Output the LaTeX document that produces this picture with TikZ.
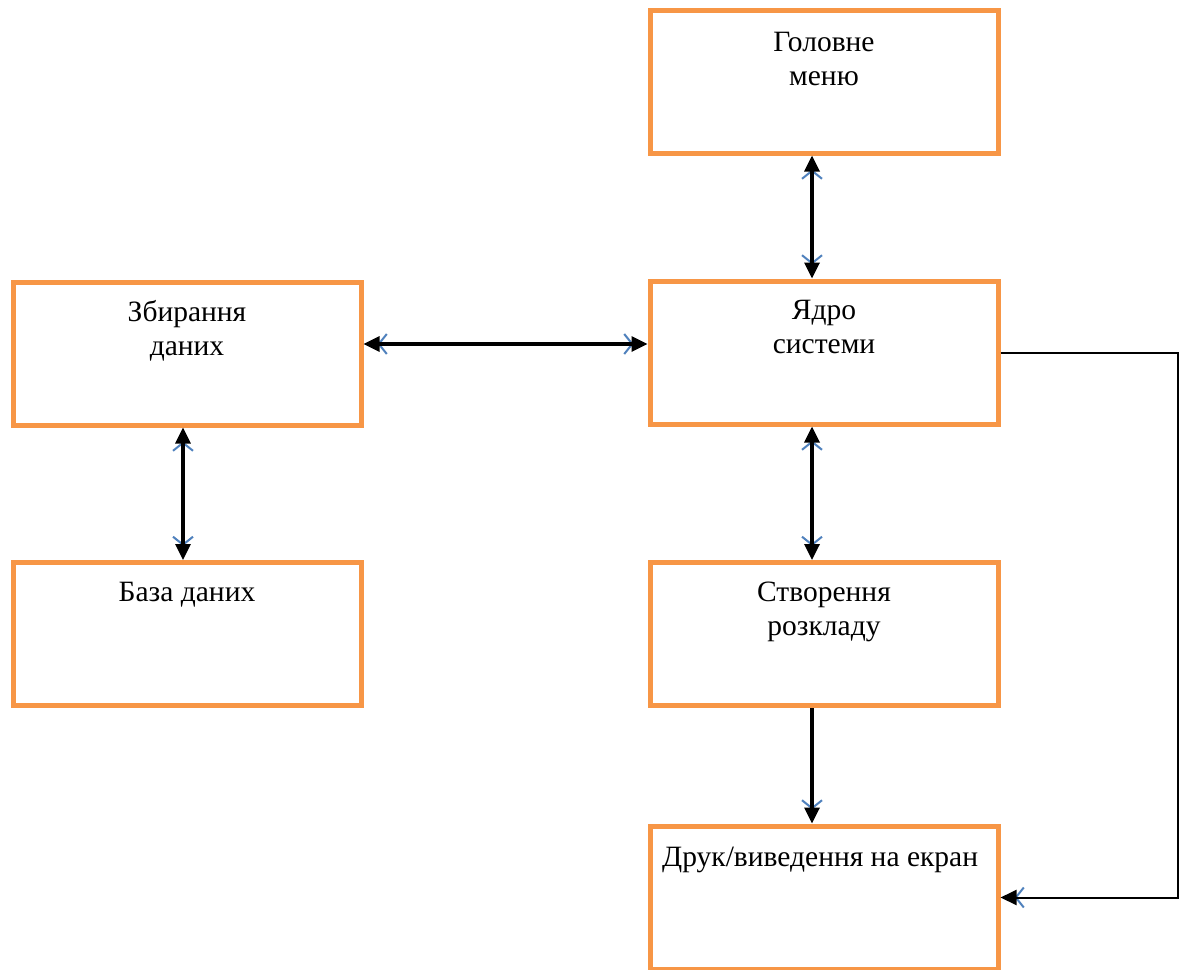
\documentclass[tikz,border=0pt]{standalone}
\usepackage{fontspec}
\setmainfont{Liberation Serif}
\newfontfamily\labelfont{Liberation Serif}
\usetikzlibrary{arrows.meta}
\definecolor{boxorange}{HTML}{F79646}
\definecolor{barbblue}{HTML}{4F81BD}
\tikzset{
  block/.style={draw=boxorange, line width=5pt, fill=white, rectangle,
    minimum width=348pt, minimum height=143pt, inner sep=0pt},
  lbl/.style={font=\labelfont\fontsize{29.5}{34}\selectfont, inner sep=0pt, anchor=base},
  head/.tip={Triangle[length=16pt, width=15pt]},
  barb/.tip={Straight Barb[line width=2pt, length=8pt, width=20pt]},
  flow/.style={draw=black, line width=3.3pt},
  % blue open barbs lying just behind the black heads
  barbs both/.style={preaction={draw=barbblue, line width=2pt,
      shorten <=14pt, shorten >=14pt, {barb}-{barb}}},
  barbs end/.style={preaction={draw=barbblue, line width=2pt,
      shorten >=14pt, -{barb}}},
  both/.style={flow, barbs both, {head}-{head}},
  one/.style={flow, barbs end, -{head}},
}
\begin{document}
\begin{tikzpicture}[x=1pt, y=-1pt]
\useasboundingbox (0,0) rectangle (1180,969);
\fill[white] (0,0) rectangle (1180,969);

% blocks
\node[block] (menu)    at (824,81.5)  {};
\node[block] (core)    at (824,352.5) {};
\node[block] (collect) at (187,353.5) {};
\node[block] (db)      at (187,634)   {};
\node[block] (sched)   at (824,634)   {};
\node[block] (print)   at (824,897.5) {};

% labels
\node[lbl] (menuA)    at (824,51)  {Головне};
\node[lbl] (menuB)    at (824,85)  {меню};
\node[lbl] (coreA)    at (824,319) {Ядро};
\node[lbl] (coreB)    at (824,353) {системи};
\node[lbl] (collectA) at (187,321) {Збирання};
\node[lbl] (collectB) at (187,355) {даних};
\node[lbl] (dbA)      at (187,601) {База даних};
\node[lbl] (schedA)   at (824,601) {Створення};
\node[lbl] (schedB)   at (824,635) {розкладу};
\node[lbl, anchor=base west] (printA) at (662,866) {Друк/виведення на екран};

% connectors
\draw[both] ([xshift=-12pt]menu.south) -- ([xshift=-12pt]core.north);
\draw[both] ([yshift=9.5pt]collect.east) -- ([yshift=8.5pt]core.west);
\draw[both] ([xshift=-4pt]collect.south) -- ([xshift=-4pt]db.north);
\draw[both] ([xshift=-12pt]core.south) -- ([xshift=-12pt]sched.north);
\draw[one]  ([xshift=-12pt]sched.south) -- ([xshift=-12pt]print.north);
\draw[one, line width=2pt] (core.east) -- ++(177,0) |- (print.east);
\end{tikzpicture}
\end{document}
